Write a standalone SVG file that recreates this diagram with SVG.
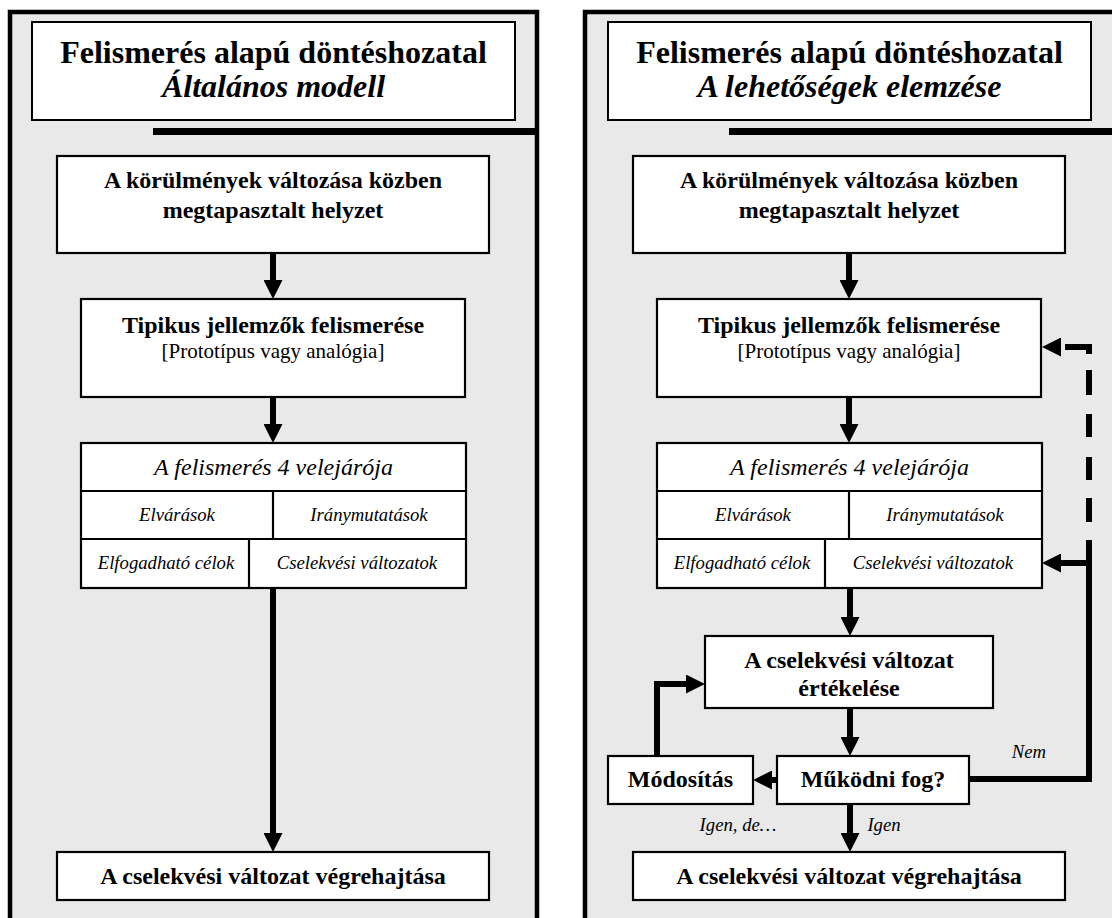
<svg xmlns="http://www.w3.org/2000/svg" width="1112" height="918" viewBox="0 0 1112 918">
  <style>
    .panel { fill: #e9e9e9; stroke: #000; stroke-width: 4.5; }
    .bar { fill: #000; }
    .box { fill: #fff; stroke: #000; stroke-width: 2.2; }
    .tbox { fill: #fff; stroke: #000; stroke-width: 2; }
    .div { stroke: #000; stroke-width: 2.2; fill: none; }
    text { font-family: "Liberation Serif", "Times New Roman", serif; fill: #000; text-anchor: middle; }
    .h1 { font-size: 32px; font-weight: bold; }
    .h2 { font-size: 32px; font-style: italic; font-weight: bold; }
    .b { font-size: 24px; font-weight: bold; }
    .r { font-size: 21px; }
    .it { font-size: 24px; font-style: italic; }
    .cell { font-size: 18.7px; font-style: italic; }
    .lbl { font-size: 18.7px; font-style: italic; }
    .conn { fill: none; stroke: #000; stroke-width: 6; stroke-linejoin: miter; }
    .arrow { marker-end: url(#head); }
  </style>
  <defs>
    <marker id="head" markerUnits="userSpaceOnUse" markerWidth="20" markerHeight="19" refX="9" refY="9.5" orient="auto">
      <path d="M0,0 L19,9.5 L0,19 Z" fill="#000"/>
    </marker>
  </defs>

  <!-- panel frames -->
  <rect class="panel" x="10" y="12" width="527" height="950"/>
  <rect class="panel" x="585" y="12" width="540" height="950"/>
  <rect class="bar" x="153" y="128" width="386" height="7"/>
  <rect class="bar" x="729" y="128" width="390" height="7"/>

  <!-- left panel: general model -->
  <g id="title-left">
    <rect class="tbox" x="32" y="22" width="483" height="98"/>
    <text class="h1" x="273.5" y="63">Felismerés alapú döntéshozatal</text>
    <text class="h2" x="273.5" y="97">Általános modell</text>
  </g>
  <g id="situation-left">
    <rect class="box" x="57" y="156" width="432" height="97"/>
    <text class="b" x="273" y="188">A körülmények változása közben</text>
    <text class="b" x="273" y="218">megtapasztalt helyzet</text>
  </g>
  <g id="recognition-left">
    <rect class="box" x="81" y="299" width="384" height="98"/>
    <text class="b" x="273" y="333">Tipikus jellemzők felismerése</text>
    <text class="r" x="273" y="358">[Prototípus vagy analógia]</text>
  </g>
  <g id="aspects-left">
    <rect class="box" x="81" y="443" width="385" height="145"/>
    <path class="div" d="M81,491 H466 M81,539 H466 M273,491 V539 M249,539 V588"/>
    <text class="it" x="273.5" y="475">A felismerés 4 velejárója</text>
    <text class="cell" x="177" y="521">Elvárások</text>
    <text class="cell" x="369" y="521">Iránymutatások</text>
    <text class="cell" x="166" y="569">Elfogadható célok</text>
    <text class="cell" x="357" y="569">Cselekvési változatok</text>
  </g>
  <g id="execute-left">
    <rect class="box" x="57" y="852" width="432" height="48"/>
    <text class="b" x="273" y="884">A cselekvési változat végrehajtása</text>
  </g>

  <!-- right panel: analysing the options -->
  <g id="title-right">
    <rect class="tbox" x="608" y="22" width="483" height="98"/>
    <text class="h1" x="849.5" y="63">Felismerés alapú döntéshozatal</text>
    <text class="h2" x="849.5" y="97">A lehetőségek elemzése</text>
  </g>
  <g id="situation-right">
    <rect class="box" x="633" y="156" width="432" height="97"/>
    <text class="b" x="849" y="188">A körülmények változása közben</text>
    <text class="b" x="849" y="218">megtapasztalt helyzet</text>
  </g>
  <g id="recognition-right">
    <rect class="box" x="657" y="299" width="384" height="98"/>
    <text class="b" x="849" y="333">Tipikus jellemzők felismerése</text>
    <text class="r" x="849" y="358">[Prototípus vagy analógia]</text>
  </g>
  <g id="aspects-right">
    <rect class="box" x="657" y="443" width="385" height="145"/>
    <path class="div" d="M657,491 H1042 M657,539 H1042 M849,491 V539 M825,539 V588"/>
    <text class="it" x="849.5" y="475">A felismerés 4 velejárója</text>
    <text class="cell" x="753" y="521">Elvárások</text>
    <text class="cell" x="945" y="521">Iránymutatások</text>
    <text class="cell" x="742" y="569">Elfogadható célok</text>
    <text class="cell" x="933" y="569">Cselekvési változatok</text>
  </g>
  <g id="evaluate">
    <rect class="box" x="705" y="636" width="288" height="72"/>
    <text class="b" x="849" y="668">A cselekvési változat</text>
    <text class="b" x="849" y="696">értékelése</text>
  </g>
  <g id="will-it-work">
    <rect class="box" x="777" y="756" width="192" height="48"/>
    <text class="b" x="873" y="787">Működni fog?</text>
  </g>
  <g id="modify">
    <rect class="box" x="608" y="756" width="145" height="48"/>
    <text class="b" x="680.5" y="787">Módosítás</text>
  </g>
  <g id="execute-right">
    <rect class="box" x="633" y="852" width="432" height="48"/>
    <text class="b" x="849" y="884">A cselekvési változat végrehajtása</text>
  </g>

  <!-- connectors -->
  <g id="connectors">
    <path class="conn arrow" d="M273,253 V289"/>
    <path class="conn arrow" d="M273,397 V433"/>
    <path class="conn arrow" d="M273,588 V842"/>

    <path class="conn arrow" d="M849,253 V289"/>
    <path class="conn arrow" d="M849,397 V433"/>
    <path class="conn arrow" d="M850,588 V626"/>
    <path class="conn arrow" d="M850,708 V746"/>
    <path class="conn arrow" d="M850,804 V842"/>
    <path class="conn arrow" d="M777,780 H763"/>
    <path class="conn arrow" d="M657,756 V684 H695"/>

    <!-- "Nem" loop back to the options -->
    <path class="conn" d="M969,779 H1089 V540"/>
    <path class="conn arrow" d="M1089,563 H1052"/>
    <!-- dashed return to recognition -->
    <path class="conn" d="M1089,395 V370 M1089,437 V414 M1089,480 V457 M1089,522 V498"/>
    <path class="conn" d="M1089,354 V347 H1065"/>
    <path class="conn arrow" d="M1059,347 H1052"/>

    <text class="lbl" x="1029" y="758">Nem</text>
    <text class="lbl" x="738" y="831">Igen, de…</text>
    <text class="lbl" x="884" y="831">Igen</text>
  </g>
</svg>
